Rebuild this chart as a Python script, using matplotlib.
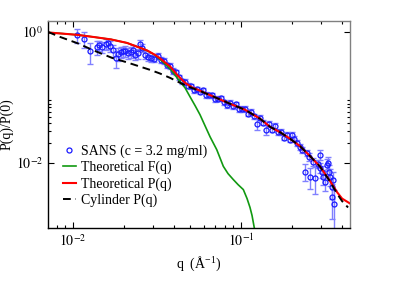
import numpy as np
import matplotlib
matplotlib.use('Agg')
import matplotlib.pyplot as plt
from matplotlib.ticker import FixedLocator, NullFormatter

# SANS data: q (1/A), P(q)/P(0), relative error
q_data = [0.01056, 0.01163, 0.01271, 0.01390, 0.01428, 0.01488, 0.01572, 0.01616,
          0.01661, 0.0173, 0.0180, 0.01853, 0.01918, 0.01984, 0.0204, 0.02125,
          0.02214, 0.02276, 0.02339, 0.02437, 0.02488, 0.02575, 0.02683, 0.02796,
          0.02912, 0.03034,
          0.03206, 0.03341, 0.03481, 0.03627, 0.03779, 0.03938, 0.04103, 0.04275,
          0.04455, 0.04642, 0.04837, 0.05040, 0.05251, 0.05472, 0.05701, 0.05941,
          0.06190, 0.06450, 0.06721, 0.07003, 0.07297, 0.07603, 0.07922, 0.08255,
          0.08601, 0.08962, 0.09339, 0.09731, 0.1014, 0.1057, 0.1101, 0.1147,
          0.1195, 0.1245, 0.1298, 0.1352, 0.1409, 0.1468, 0.1530, 0.1594,
          0.1661, 0.1731, 0.1803, 0.1879, 0.1958,
          0.2012, 0.2067, 0.2154, 0.2245, 0.2307, 0.2404, 0.2470, 0.2539,
          0.2575, 0.2683, 0.2757, 0.2873, 0.2953, 0.2953, 0.3034, 0.3076,
          0.3162, 0.3251, 0.3296, 0.3318, 0.3387, 0.3457, 0.3480, 0.3543, 0.3577]
p_data = [0.900, 0.782, 0.504, 0.590, 0.622, 0.590, 0.656, 0.667,
          0.611, 0.522, 0.401, 0.461, 0.495, 0.504, 0.513, 0.478,
          0.495, 0.531, 0.446, 0.470, 0.644, 0.570, 0.446, 0.415,
          0.394, 0.387,
          0.4285, 0.3697, 0.3646, 0.3069, 0.3027, 0.2530, 0.2399, 0.2020,
          0.1755, 0.1724, 0.1503, 0.1472, 0.1284, 0.1339, 0.1213, 0.1288,
          0.1088, 0.1077, 0.1084, 0.0932, 0.0955, 0.0962, 0.0842, 0.0763,
          0.0824, 0.0737, 0.0785, 0.0665, 0.0660, 0.0667, 0.0564, 0.0598,
          0.0515, 0.0391, 0.0486, 0.0409, 0.0321, 0.0391, 0.0318, 0.0365,
          0.0293, 0.0295, 0.0240, 0.0267, 0.0224,
          0.0268, 0.0232, 0.0202, 0.01755, 0.0158, 0.00729, 0.01421, 0.01235,
          0.00611, 0.01036, 0.0059, 0.00966, 0.01325, 0.00839, 0.00729, 0.00611,
          0.00513, 0.00932, 0.0100, 0.00729, 0.00611, 0.0043, 0.00303, 0.0055, 0.00229]
err_frac = [0.25, 0.27, 0.36, 0.25, 0.18, 0.18, 0.18, 0.18,
            0.18, 0.21, 0.29, 0.21, 0.18, 0.18, 0.18, 0.18,
            0.18, 0.18, 0.18, 0.18, 0.18, 0.14, 0.14, 0.14,
            0.12, 0.11,
            0.10, 0.10, 0.10, 0.10, 0.10, 0.10, 0.09, 0.09,
            0.09, 0.09, 0.09, 0.09, 0.09, 0.09, 0.09, 0.09,
            0.09, 0.09, 0.09, 0.09, 0.09, 0.09, 0.09, 0.09,
            0.09, 0.09, 0.09, 0.09, 0.09, 0.09, 0.09, 0.09,
            0.09, 0.18, 0.09, 0.09, 0.18, 0.09, 0.09, 0.09,
            0.09, 0.09, 0.09, 0.09, 0.09,
            0.11, 0.11, 0.11, 0.11, 0.11, 0.29, 0.11, 0.14,
            0.36, 0.14, 0.43, 0.14, 0.18, 0.18, 0.21, 0.25,
            0.29, 0.21, 0.21, 0.25, 0.29, 0.36, 0.55, 0.29, 0.68]

# Theoretical P(q)
q_p = [0.00710, 0.00837, 0.01071, 0.01315, 0.01684, 0.02096, 0.02339, 0.02757,
       0.03077, 0.03295, 0.03780, 0.04217, 0.04642, 0.05109, 0.05702, 0.07003,
       0.08601, 0.1056, 0.1297, 0.1488, 0.1707, 0.1957, 0.2245, 0.2575,
       0.2953, 0.3387, 0.3727, 0.3993, 0.4455]
p_p = [0.979, 0.949, 0.900, 0.839, 0.768, 0.679, 0.611, 0.522,
       0.446, 0.394, 0.297, 0.213, 0.1665, 0.1421, 0.1257, 0.1000,
       0.0796, 0.0645, 0.0470, 0.0354, 0.0292, 0.0232, 0.01786, 0.01257,
       0.00869, 0.00522, 0.00354, 0.00282, 0.00237]

# Theoretical F(q)
q_f = [0.00710, 0.00837, 0.01071, 0.01315, 0.01684, 0.02096, 0.02339, 0.02757,
       0.03077, 0.03295, 0.03780, 0.04335, 0.04642, 0.04972, 0.05333, 0.05702,
       0.06105, 0.06540, 0.07169, 0.07846, 0.08367, 0.0900, 0.0960, 0.1032,
       0.1086, 0.1131, 0.1163, 0.1204]
p_f = [0.979, 0.949, 0.900, 0.839, 0.768, 0.679, 0.611, 0.520,
       0.443, 0.380, 0.272, 0.1743, 0.1397, 0.1018, 0.0742, 0.0540,
       0.0367, 0.0249, 0.0158, 0.00878, 0.00679, 0.0055, 0.00461, 0.00387,
       0.00282, 0.00206, 0.00155, 0.00095]

# Cylinder P(q)
q_cyl = [0.00710, 0.00837, 0.01071, 0.01315, 0.01707, 0.02096, 0.02873, 0.03295,
         0.03780, 0.04335, 0.04972, 0.05702, 0.07003, 0.08601, 0.1056, 0.1297,
         0.1488, 0.1707, 0.1957, 0.2245, 0.2575, 0.2953, 0.3387, 0.3727,
         0.3993, 0.4334]
p_cyl = [1.0, 0.839, 0.667, 0.526, 0.401, 0.342, 0.263, 0.231,
         0.1984, 0.1665, 0.1421, 0.1248, 0.1000, 0.0796, 0.0645, 0.0470,
         0.0354, 0.0292, 0.0232, 0.01786, 0.01257, 0.00869, 0.00513, 0.00336,
         0.00258, 0.00206]

plt.rcParams['font.family'] = 'Liberation Serif'
plt.rcParams['mathtext.fontset'] = 'stix'
plt.rcParams['font.size'] = 10

fig = plt.figure(figsize=(3.96, 3.06), dpi=100)
ax = fig.add_axes([0.1212, 0.2549, 0.7626, 0.6765])

q_arr = np.array(q_data)
p_arr = np.array(p_data)
ax.errorbar(q_arr, p_arr, yerr=p_arr * np.array(err_frac), fmt='none',
            ecolor='#8080ff', elinewidth=1, capsize=2.2, capthick=1)
ax.plot(q_arr, p_arr, 'o', mfc='none', mec='#1a1aff', ms=3.6, mew=0.9,
        label='SANS (c = 3.2 mg/ml)')
ax.plot(q_f, p_f, color='#119911', lw=1.2, label='Theoretical F(q)')
ax.plot(q_p, p_p, color='#ff0000', lw=1.5, label='Theoretical P(q)')
ax.plot(q_cyl, p_cyl, color='black', lw=1.4, ls=(0, (4, 2.5)), label='Cylinder P(q)')

ax.set_xscale('log')
ax.set_yscale('log')
ax.set_xlim(0.0071, 0.445)
ax.set_ylim(1e-3, 1.47)

ax.set_xticks([0.01, 0.1], [r'$10^{-2}$', r'$10^{-1}$'])
ax.set_yticks([0.01, 1.0], [r'$10^{-2}$', r'$10^{0}$'])
ax.yaxis.set_minor_locator(FixedLocator([0.02, 0.03, 0.04, 0.05, 0.06, 0.07, 0.08, 0.09]))
ax.yaxis.set_minor_formatter(NullFormatter())
ax.xaxis.set_minor_formatter(NullFormatter())
ax.tick_params(which='both', direction='in', top=True, right=True)
ax.tick_params(which='major', length=4.3, width=0.8, labelsize=10)
ax.tick_params(which='minor', length=2.4, width=0.8)
for s in ['top', 'right']:
    ax.spines[s].set_color('#808080')
for s in ax.spines.values():
    s.set_linewidth(1.0)

ax.set_xlabel(r'q  (Å$^{\mathregular{-1}}$)', fontsize=10)
ax.set_ylabel('P(q)/P(0)', fontsize=10)
ax.yaxis.set_label_coords(-0.115, 0.5)

ax.legend(loc='upper left', bbox_to_anchor=(0.05, 0.405), frameon=False,
          borderpad=0, borderaxespad=0, handlelength=0.9, handletextpad=0.4,
          labelspacing=0.22, numpoints=1, fontsize=10)

fig.savefig('out.png', dpi=100)
